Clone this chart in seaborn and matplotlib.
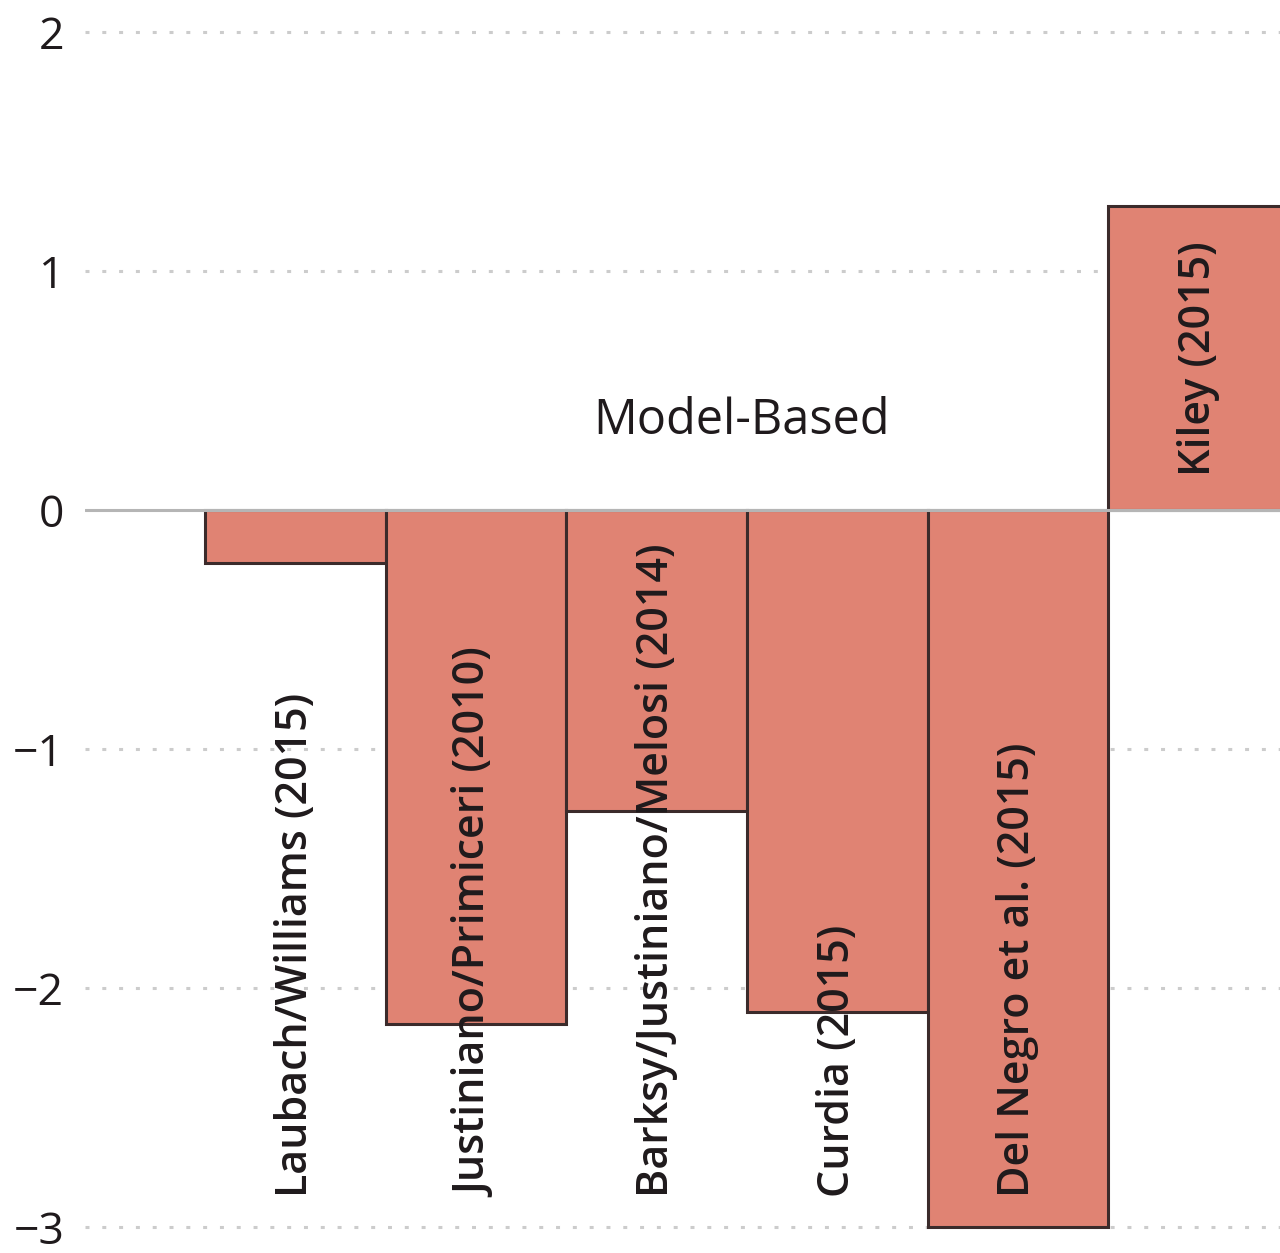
import matplotlib
matplotlib.use("Agg")
import matplotlib.pyplot as plt
import seaborn as sns
import pandas as pd

# Model-based estimates
studies = ["Laubach/Williams (2015)", "Justiniano/Primiceri (2010)",
           "Barksy/Justiniano/Melosi (2014)", "Curdia (2015)",
           "Del Negro et al. (2015)", "Kiley (2015)"]
values = [-0.22, -2.15, -1.26, -2.10, -3.00, 1.27]
yticks = [-3, -2, -1, 0, 1, 2]
group_label = "Model-Based"

df = pd.DataFrame({"study": studies, "value": values})

sns.set_style("white")
plt.rcParams["font.family"] = ["Open Sans", "DejaVu Sans"]

fig = plt.figure(figsize=(12.8, 12.53), dpi=100)
ax = fig.add_axes([85 / 1280, 0, 1 - 85 / 1280, 1])

# dotted gridlines behind the bars
for t in yticks:
    if t != 0:
        ax.axhline(t, color="#cccccc", lw=2.2, ls=(0, (1.3, 4.2)), zorder=0)
ax.axhline(0, color="#b5b5b5", lw=2.2, zorder=3)

sns.barplot(data=df, x="study", y="value", width=1, color="#e08373",
            saturation=1, edgecolor="#3b2b2b", linewidth=2.2, ax=ax, zorder=2)

# labels inside / below the bars
for i, (name, v) in enumerate(zip(studies, values)):
    if v < 0:
        ax.text(i, -2.875, name, rotation=90, ha="center", va="bottom",
                fontsize=31, fontweight="semibold", color="#1f1a1c", zorder=4)
    else:
        ax.text(i, v / 2, name, rotation=90, ha="center", va="center",
                fontsize=31, fontweight="semibold", color="#1f1a1c", zorder=4)

ax.text(2.47, 0.37, group_label, ha="center", va="center", fontsize=35,
        color="#1f1a1c")

ax.set_xlim(-1.163, 5.45)
ax.set_ylim(-3.109, 2.134)
ax.set_yticks(yticks)
ax.set_yticklabels([str(t).replace("-", "\u2212") for t in yticks])
ax.tick_params(axis="y", length=0, labelsize=32, pad=15, labelcolor="#1f1a1c")
ax.set_xticks([])
ax.set_xlabel("")
ax.set_ylabel("")
sns.despine(ax=ax, left=True, bottom=True)
ax.patch.set_alpha(0)

fig.savefig("out.png", dpi=100)
